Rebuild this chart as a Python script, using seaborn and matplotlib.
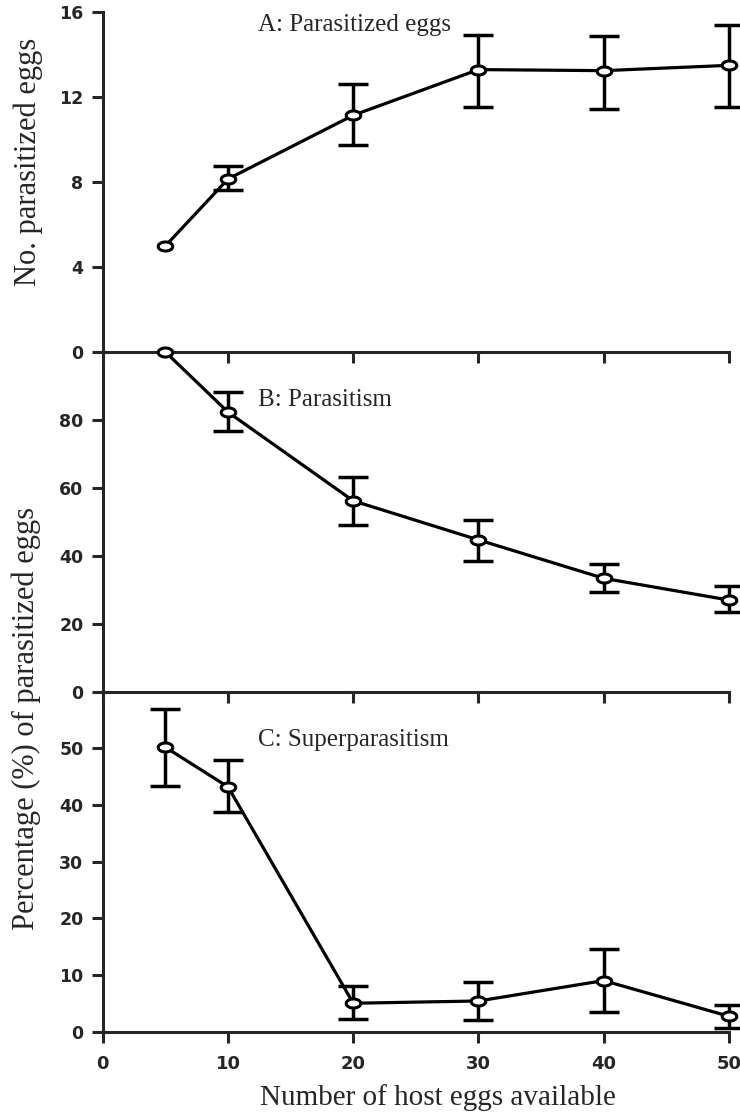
import numpy as np
import matplotlib
matplotlib.use("Agg")
import matplotlib.pyplot as plt
import pandas as pd
import seaborn as sns

# host eggs offered
host_eggs = [5, 10, 20, 30, 40, 50]

# A: number of parasitized eggs (mean, upper, lower bar ends)
num_para = [5.0, 8.15, 11.15, 13.3, 13.25, 13.5]
num_para_hi = [5.0, 8.75, 12.6, 14.95, 14.9, 15.4]
num_para_lo = [5.0, 7.65, 9.75, 11.55, 11.45, 11.55]

# B: parasitism (%)
parasitism = [100.0, 82.3, 56.2, 44.7, 33.4, 27.0]
parasitism_hi = [100.0, 88.2, 63.3, 50.6, 37.6, 31.0]
parasitism_lo = [100.0, 76.7, 49.2, 38.6, 29.4, 23.4]

# C: superparasitism (%)
superpara = [50.2, 43.2, 5.0, 5.4, 9.0, 2.7]
superpara_hi = [57.0, 48.0, 8.0, 8.7, 14.6, 4.7]
superpara_lo = [43.4, 38.8, 2.3, 2.0, 3.5, 0.7]

panels = [
    ("A: Parasitized eggs", num_para, num_para_hi, num_para_lo, (0, 16), [0, 4, 8, 12, 16], 15.4),
    ("B: Parasitism", parasitism, parasitism_hi, parasitism_lo, (0, 100), [0, 20, 40, 60, 80], 86.0),
    ("C: Superparasitism", superpara, superpara_hi, superpara_lo, (0, 60), [0, 10, 20, 30, 40, 50], 51.5),
]

sns.set_style("ticks")
serif = ["Liberation Serif", "DejaVu Serif"]
sans = ["DejaVu Sans"]

fig, axes = plt.subplots(3, 1, figsize=(7.4, 11.14), dpi=100, sharex=True)
fig.subplots_adjust(left=0.139, right=0.985, top=0.989, bottom=0.074, hspace=0)

# open egg-shaped marker
t = np.linspace(0, 2 * np.pi, 60)
egg = np.column_stack([np.cos(t), 0.62 * np.sin(t)])

for ax, (label, mean, hi, lo, ylim, yticks, ty) in zip(axes, panels):
    ax.patch.set_visible(False)
    df = pd.DataFrame({"eggs": host_eggs, "value": mean, "hi": hi, "lo": lo})
    eb = df[df["hi"] > df["lo"]]
    yerr = [eb["value"] - eb["lo"], eb["hi"] - eb["value"]]
    ax.errorbar(eb["eggs"], eb["value"], yerr=yerr, fmt="none", ecolor="black",
                elinewidth=2.5, capsize=11, capthick=2.5, zorder=2, clip_on=False)
    sns.lineplot(data=df, x="eggs", y="value", ax=ax, color="black", linewidth=2.3,
                 marker=egg, markersize=10.5, markerfacecolor="white",
                 markeredgecolor="black", markeredgewidth=2.2, zorder=3, clip_on=False)
    ax.set_ylim(*ylim)
    ax.set_xlim(0, 50)
    ax.set_yticks(yticks)
    ax.set_xticks([0, 10, 20, 30, 40, 50])
    ax.set_xlabel("")
    ax.set_ylabel("")
    sns.despine(ax=ax)
    for s in ["left", "bottom"]:
        ax.spines[s].set_linewidth(2.2)
    ax.tick_params(axis="both", direction="out", width=2.2, length=8, labelsize=12.5, pad=6)
    for lab in ax.get_yticklabels() + ax.get_xticklabels():
        lab.set_fontfamily(sans)
        lab.set_fontweight("bold")
    ax.text(12.4, ty, label, fontsize=18, family=serif, va="center", ha="left")

for ax in axes[:2]:
    ax.tick_params(axis="x", labelbottom=False)
axes[2].tick_params(axis="x", pad=9, labelsize=13)

axes[0].set_ylabel("No. parasitized eggs", fontsize=22, family=serif)
axes[0].yaxis.set_label_coords(-0.095, 0.56)
fig.text(0.036, 0.355, "Percentage (%) of parasitized eggs", rotation=90,
         fontsize=22, family=serif, ha="center", va="center")
axes[2].set_xlabel("Number of host eggs available", fontsize=21, family=serif)
axes[2].xaxis.set_label_coords(0.535, -0.155)

fig.savefig("out.png", dpi=100)
